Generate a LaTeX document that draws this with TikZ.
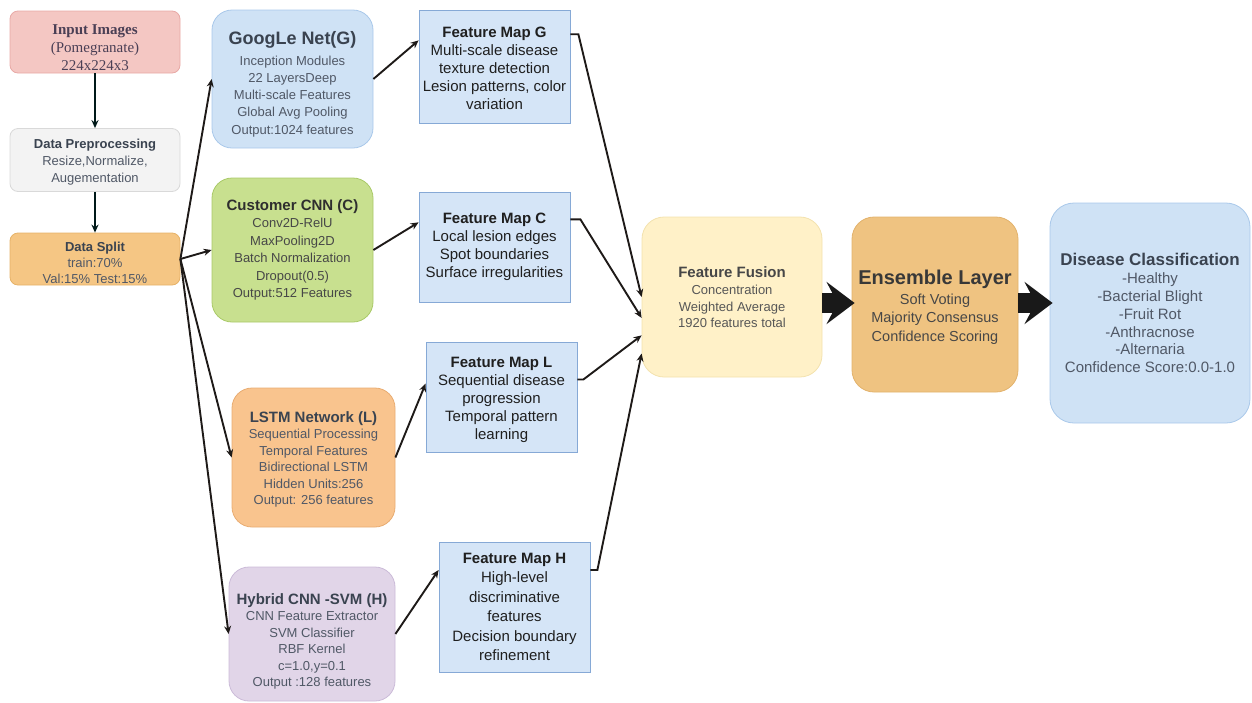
\documentclass[tikz,border=0pt]{standalone}
\usepackage{fontspec}
\setmainfont{Liberation Sans}
\newfontfamily\serifbox{Liberation Serif}
\usetikzlibrary{arrows.meta,positioning}

\definecolor{inpfill}{HTML}{F4C7C3}
\definecolor{inpline}{HTML}{E8A9A6}
\definecolor{inptext}{HTML}{4A3F55}
\definecolor{prepfill}{HTML}{F3F3F3}
\definecolor{prepline}{HTML}{D9D9D9}
\definecolor{splitfill}{HTML}{F5C684}
\definecolor{splitline}{HTML}{E6B268}
\definecolor{gnetfill}{HTML}{CFE2F5}
\definecolor{gnetline}{HTML}{A9C8EA}
\definecolor{cnnfill}{HTML}{C8E08F}
\definecolor{cnnline}{HTML}{A9C968}
\definecolor{lstmfill}{HTML}{F9C48E}
\definecolor{lstmline}{HTML}{E8AC72}
\definecolor{hybfill}{HTML}{E1D5E8}
\definecolor{hybline}{HTML}{CBBBD8}
\definecolor{fmfill}{HTML}{D5E5F7}
\definecolor{fmline}{HTML}{86A9D6}
\definecolor{fusfill}{HTML}{FFF1C8}
\definecolor{fusline}{HTML}{F3E2AE}
\definecolor{ensfill}{HTML}{EFC381}
\definecolor{ensline}{HTML}{E2B26C}
\definecolor{txtdark}{HTML}{3A4350}
\definecolor{txtbody}{HTML}{505866}
\definecolor{linkc}{HTML}{1E1A18}

\begin{document}
\begin{tikzpicture}[x=1pt,y=-1pt,
  stage/.style={rounded corners=8pt, line width=0.8pt, align=center, inner sep=0pt,
    minimum width=170pt, font=\fontsize{13}{16.5}\selectfont, text=txtbody},
  model/.style={rounded corners=20pt, line width=0.8pt, align=center, inner sep=0pt,
    font=\fontsize{13}{16.5}\selectfont, text=txtbody},
  fmap/.style={draw=fmline, fill=fmfill, line width=0.8pt, align=center, inner sep=0pt,
    minimum width=151pt, font=\fontsize{15}{18}\selectfont, text=black!88},
  link/.style={draw=linkc, line width=1.9pt, -{Stealth[length=8pt,width=7pt]}},
  bigarrow/.style={draw=black!90, line width=20pt, -{Stealth[length=28pt,width=42pt,inset=11pt]}}]

  \useasboundingbox (0,0) rectangle (1252,702);

  % Input and preparation
  \node[stage, fill=inpfill, draw=inpline, minimum height=62pt, text=inptext,
    font=\serifbox\fontsize{15}{18}\selectfont] (input) at (95,42)
    {\rule{0pt}{22pt}\textbf{Input Images}\\(Pomegranate)\\224x224x3};
  \node[stage, fill=prepfill, draw=prepline, minimum height=63pt,
    font=\fontsize{13}{17}\selectfont] (prep) at (95,160)
    {\rule{0pt}{14pt}\textcolor{txtdark}{\textbf{Data Preprocessing}}\\Resize,Normalize,\\Augementation};
  \node[stage, fill=splitfill, draw=splitline, minimum height=52pt,
    font=\fontsize{13}{16}\selectfont] (split) at (95,259)
    {\rule{0pt}{18pt}\textcolor{txtdark}{\textbf{Data Split}}\\train:70\%\\Val:15\% Test:15\%};

  \draw[link, line width=2.2pt, draw=black!80!teal] (input) -- (prep);
  \draw[link, line width=2.2pt, draw=black!80!teal] (prep) -- (split);

  % The four networks
  \node[model, fill=gnetfill, draw=gnetline, minimum width=161pt, minimum height=138pt,
    font=\fontsize{13}{17.2}\selectfont] (gnet) at (292.5,79)
    {\rule{0pt}{23pt}\textcolor{txtdark}{\bfseries\fontsize{18}{21}\selectfont GoogLe Net(G)}\\[4pt]
     Inception Modules\\22 LayersDeep\\Multi-scale Features\\Global Avg Pooling\\Output:1024 features};
  \node[model, fill=cnnfill, draw=cnnline, minimum width=161pt, minimum height=144pt, text=black!72,
    font=\fontsize{13}{17.5}\selectfont] (ccnn) at (292.5,250)
    {\textcolor{black!82}{\bfseries\fontsize{15}{18}\selectfont Customer CNN (C)}\\
     Conv2D-RelU\\MaxPooling2D\\Batch Normalization\\Dropout(0.5)\\Output:512 Features};
  \node[model, fill=lstmfill, draw=lstmline, minimum width=163pt, minimum height=139pt] (lstm) at (313.5,457.5)
    {\rule{0pt}{15pt}\textcolor{txtdark}{\bfseries\fontsize{15}{18}\selectfont LSTM Network (L)}\\
     Sequential Processing\\Temporal Features\\Bidirectional LSTM\\Hidden Units:256\\Output: 256 features};
  \node[model, fill=hybfill, draw=hybline, minimum width=166pt, minimum height=134pt] (hyb) at (312,634)
    {\rule{0pt}{26pt}\textcolor{txtdark}{\bfseries\fontsize{15}{18}\selectfont Hybrid CNN -SVM (H)}\\
     CNN Feature Extractor\\SVM Classifier\\RBF Kernel\\c=1.0,y=0.1\\Output :128 features};

  \draw[link] (split.east) -- (gnet.west);
  \draw[link] (split.east) -- (ccnn.west);
  \draw[link] (split.east) -- (lstm.west);
  \draw[link] (split.east) -- (hyb.west);

  % Feature maps
  \node[fmap, minimum height=113pt] (fmg) at (494.5,66.5)
    {\rule{0pt}{15pt}\textbf{Feature Map G}\\Multi-scale disease\\texture detection\\Lesion patterns, color\\variation};
  \node[fmap, minimum height=110pt] (fmc) at (494.5,247)
    {\textbf{Feature Map C}\\Local lesion edges\\Spot boundaries\\Surface irregularities};
  \node[fmap, minimum height=110pt] (fml) at (501.5,397)
    {\rule{0pt}{16pt}\textbf{Feature Map L}\\Sequential disease\\progression\\Temporal pattern\\learning};
  \node[fmap, minimum height=130pt, font=\fontsize{15}{19.5}\selectfont] (fmh) at (514.5,607)
    {\textbf{Feature Map H}\\High-level\\discriminative\\features\\Decision boundary\\refinement};

  \draw[link] (gnet.east) -- (fmg.161);
  \draw[link] (ccnn.east) -- (fmc.162);
  \draw[link] (lstm.east) -- (fml.170);
  \draw[link] (hyb.east) -- (fmh.154);

  % Fusion, ensemble and output
  \node[model, rounded corners=22pt, fill=fusfill, draw=fusline, minimum width=180pt, minimum height=160pt,
    text=black!66] (fusion) at (732,297)
    {\textcolor{black!72}{\bfseries\fontsize{15}{18}\selectfont Feature Fusion}\\[1pt]
     Concentration\\Weighted Average\\1920 features total};
  \node[model, rounded corners=22pt, fill=ensfill, draw=ensline, minimum width=166pt, minimum height=175pt,
    text=black!72, font=\fontsize{14.5}{18.5}\selectfont] (ens) at (935,304.5)
    {\rule{0pt}{20pt}\textcolor{black!78}{\bfseries\fontsize{20}{24}\selectfont Ensemble Layer}\\[1pt]
     Soft Voting\\Majority Consensus\\Confidence Scoring};
  \node[model, rounded corners=24pt, fill=gnetfill, draw=gnetline, minimum width=200pt, minimum height=220pt,
    font=\fontsize{15}{17.8}\selectfont] (disease) at (1150,313)
    {\textcolor{txtdark}{\bfseries\fontsize{17}{20}\selectfont Disease Classification}\\[0.5pt]
     -Healthy\\-Bacterial Blight\\-Fruit Rot\\-Anthracnose\\-Alternaria\\Confidence Score:0.0-1.0};

  \draw[link] (fmg.23) -- ++(8,0) -- (fusion.west);
  \draw[link] (fmc.20) -- ++(10,0) -- (fusion.193);
  \draw[link] (fml.13) -- ++(6,0) -- (fusion.203);
  \draw[link] (fmh.26) -- ++(7,0) -- (fusion.212);

  \draw[bigarrow] (fusion.east |- 0,303) -- ([xshift=3pt]ens.west |- 0,303);
  \draw[bigarrow] (ens.east |- 0,303) -- ([xshift=3pt]disease.west |- 0,303);
\end{tikzpicture}
\end{document}
